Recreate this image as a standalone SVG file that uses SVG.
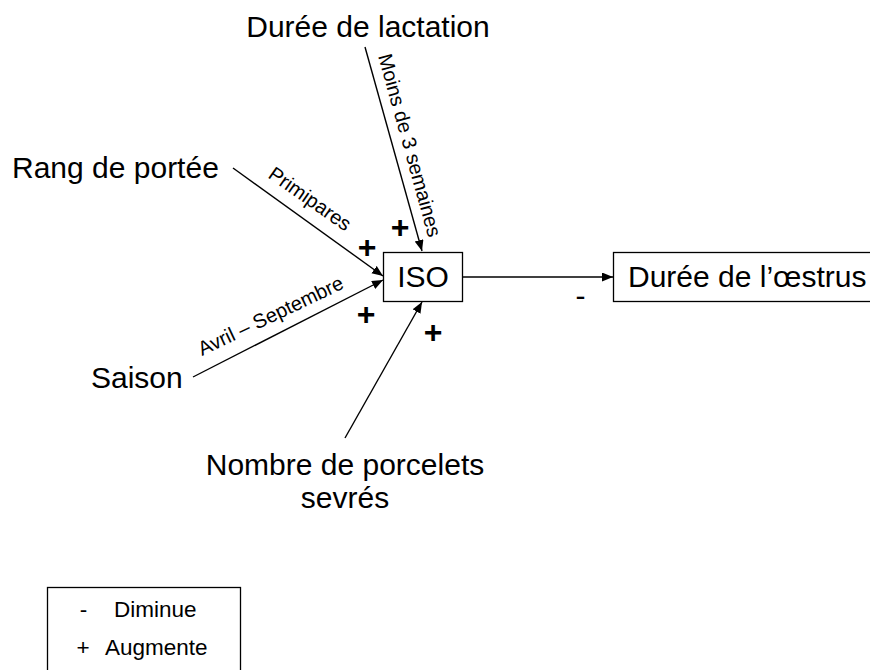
<svg xmlns="http://www.w3.org/2000/svg" width="870" height="670" viewBox="0 0 870 670">
<style>
text{font-family:"Liberation Sans",Arial,sans-serif;fill:#000}
.big{font-size:30px}
.lab{font-size:20px}
.sign{font-size:32px;font-weight:bold}
.leg{font-size:22.5px}
.box{fill:#fff;stroke:#000;stroke-width:1.3}
.con{stroke:#000;stroke-width:1.4;fill:none;marker-end:url(#ah)}
</style>
<defs>
<marker id="ah" markerUnits="userSpaceOnUse" markerWidth="12" markerHeight="10" refX="11" refY="4.5" orient="auto">
<path d="M0,0 L11,4.5 L0,9 Z" fill="#000"/>
</marker>
</defs>
<rect width="870" height="670" fill="#fff"/>
<g id="connectors">
<line class="con" x1="365" y1="47" x2="422" y2="251"/>
<line class="con" x1="233" y1="168" x2="383" y2="276"/>
<line class="con" x1="193" y1="377" x2="383" y2="280"/>
<line class="con" x1="345" y1="438" x2="422" y2="302"/>
<line class="con" x1="462" y1="277" x2="613" y2="277"/>
<text class="lab" transform="translate(378,56) rotate(74.5)">Moins de 3 semaines</text>
<text class="lab" transform="translate(267,177) rotate(35)">Primipares</text>
<text class="lab" transform="translate(202,356) rotate(-25.5)">Avril – Septembre</text>
<text class="sign" x="400" y="238" text-anchor="middle">+</text>
<text class="sign" x="367" y="258" text-anchor="middle">+</text>
<text class="sign" x="366" y="325" text-anchor="middle">+</text>
<text class="sign" x="433" y="343" text-anchor="middle">+</text>
<text class="big" x="580.5" y="306" text-anchor="middle">-</text>
</g>
<g id="lactation"><text class="big" x="368" y="37" text-anchor="middle">Durée de lactation</text></g>
<g id="rang"><text class="big" x="12" y="178">Rang de portée</text></g>
<g id="saison"><text class="big" x="91" y="388">Saison</text></g>
<g id="porcelets">
<text class="big" x="345" y="475" text-anchor="middle">Nombre de porcelets</text>
<text class="big" x="345" y="508" text-anchor="middle">sevrés</text>
</g>
<g id="iso">
<rect class="box" x="383.5" y="252.5" width="79" height="49"/>
<text class="big" x="423" y="287" text-anchor="middle">ISO</text>
</g>
<g id="oestrus">
<rect class="box" x="613.5" y="252.5" width="260" height="49"/>
<text class="big" x="628" y="287">Durée de l’œstrus</text>
</g>
<g id="legend">
<rect class="box" x="47.5" y="587.5" width="193" height="95"/>
<text class="leg" x="83.5" y="617" text-anchor="middle">-</text>
<text class="leg" x="114" y="617">Diminue</text>
<text class="leg" x="83" y="655" text-anchor="middle">+</text>
<text class="leg" x="105" y="655">Augmente</text>
</g>
</svg>
